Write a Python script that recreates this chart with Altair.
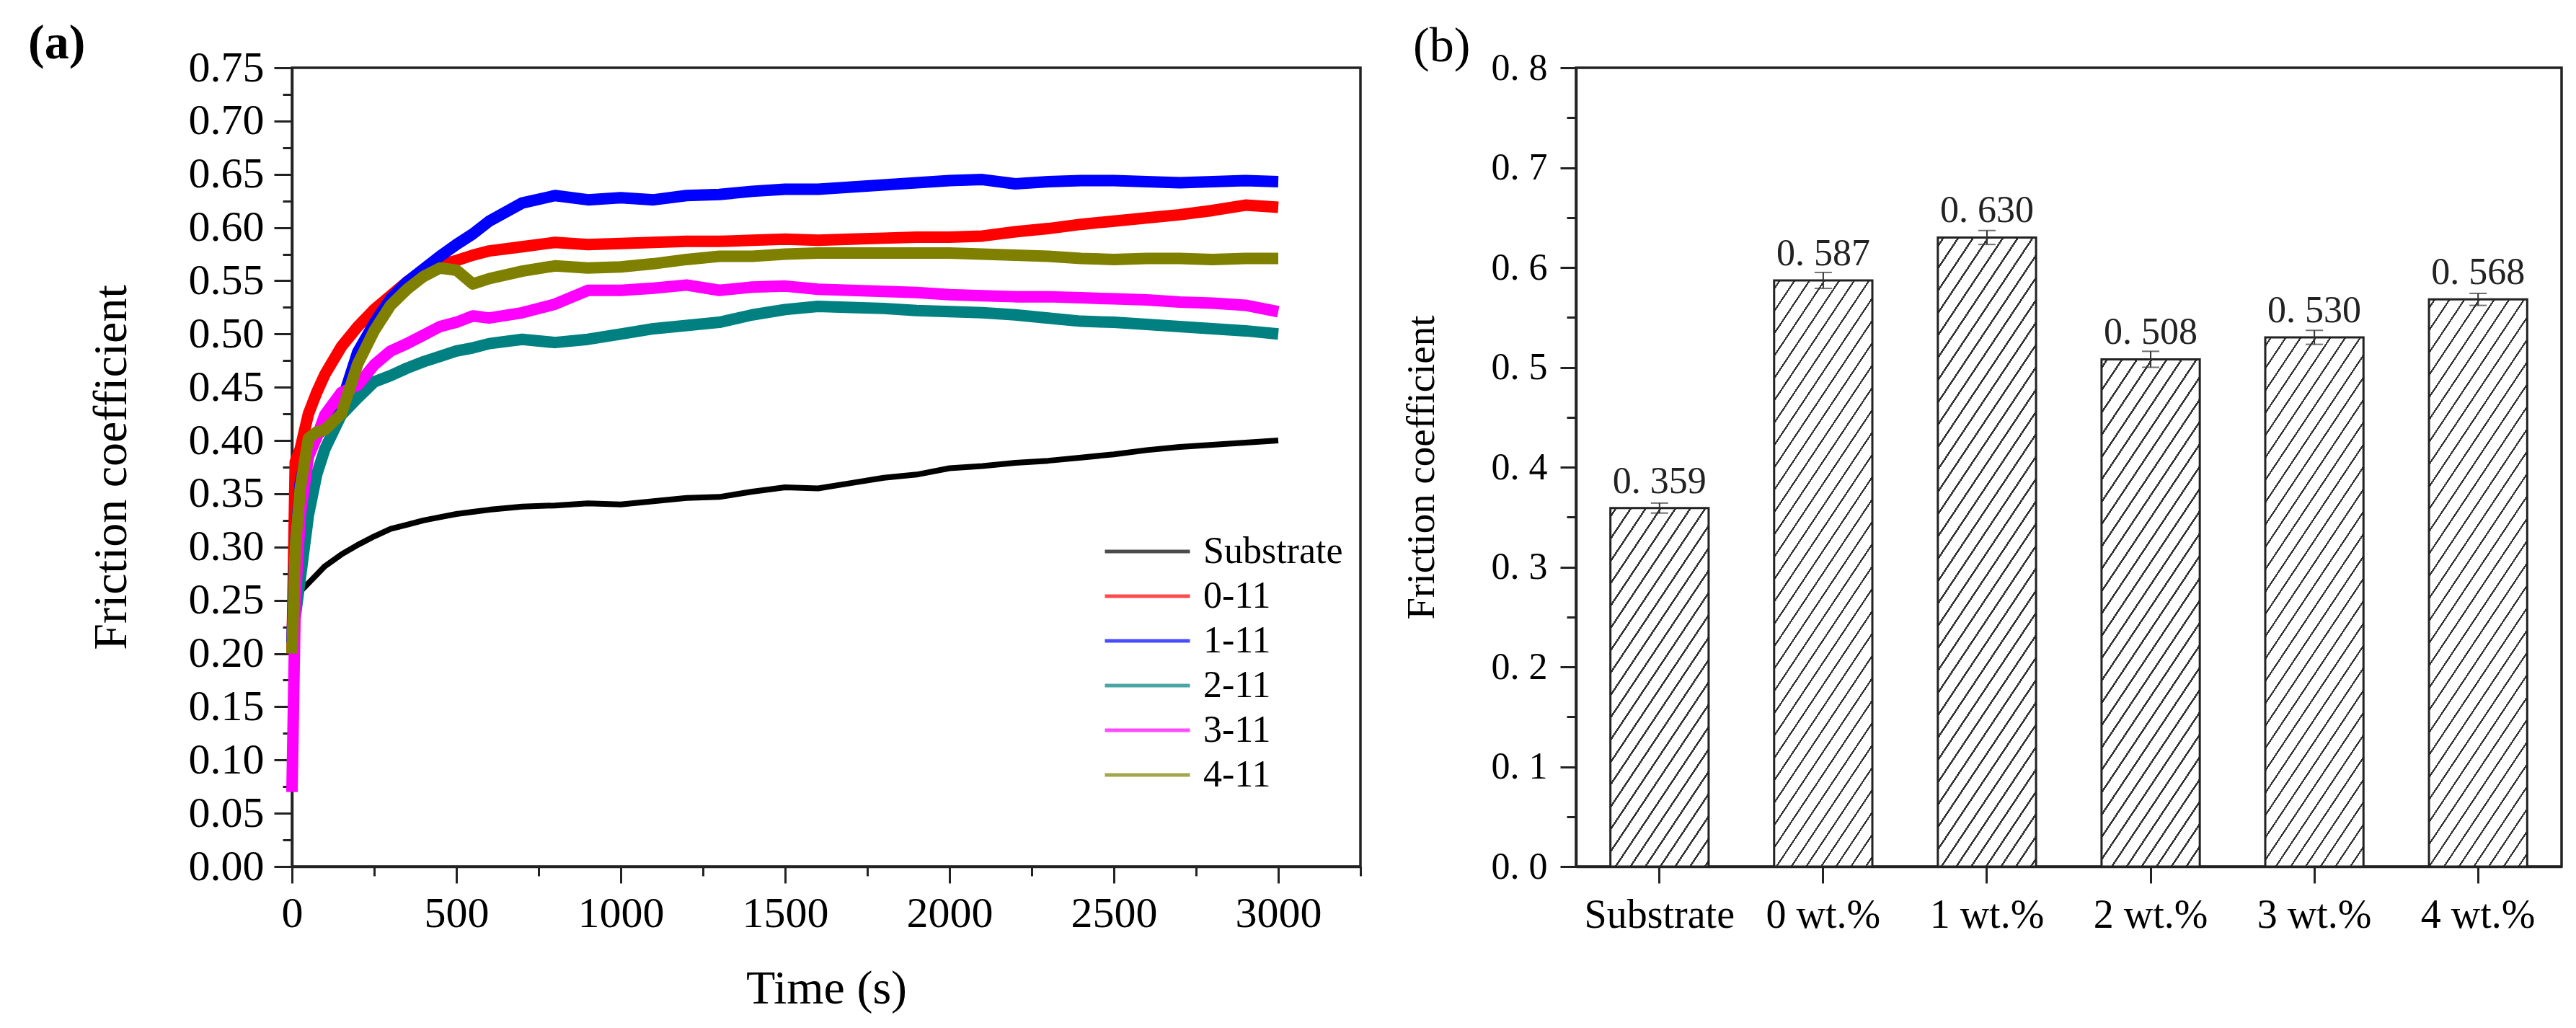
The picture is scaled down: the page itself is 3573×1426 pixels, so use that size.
import math

import altair as alt
import pandas as pd

# ---------------- panel (a): friction coefficient vs. sliding time ----------------
time_s = [0, 10, 25, 50, 75, 100, 150, 200, 250, 300, 350, 400, 450, 500, 550, 600,
          700, 800, 900, 1000, 1100, 1200, 1300, 1400, 1500, 1600, 1700, 1800, 1900,
          2000, 2100, 2200, 2300, 2400, 2500, 2600, 2700, 2800, 2900, 3000]

cof_substrate = [0.200, 0.245, 0.258, 0.266, 0.274, 0.282, 0.293, 0.302, 0.310, 0.317,
                 0.321, 0.325, 0.328, 0.331, 0.333, 0.335,
                 0.338, 0.339, 0.341, 0.340, 0.343, 0.346, 0.347, 0.352, 0.356, 0.355,
                 0.360, 0.365, 0.368, 0.374, 0.376, 0.379, 0.381, 0.384, 0.387, 0.391,
                 0.394, 0.396, 0.398, 0.400]
cof_0_11 = [0.200, 0.380, 0.392, 0.425, 0.445, 0.462, 0.488, 0.507, 0.523, 0.536,
            0.549, 0.558, 0.565, 0.569, 0.574, 0.578,
            0.582, 0.586, 0.584, 0.585, 0.586, 0.587, 0.587, 0.588, 0.589, 0.588,
            0.589, 0.590, 0.591, 0.591, 0.592, 0.596, 0.599, 0.603, 0.606, 0.609,
            0.612, 0.616, 0.621, 0.619]
cof_1_11 = [0.210, 0.300, 0.360, 0.395, 0.405, 0.412, 0.435, 0.483, 0.510, 0.533,
            0.549, 0.561, 0.573, 0.584, 0.594, 0.606,
            0.623, 0.630, 0.626, 0.628, 0.626, 0.630, 0.631, 0.634, 0.636, 0.636,
            0.638, 0.640, 0.642, 0.644, 0.645, 0.641, 0.643, 0.644, 0.644, 0.643,
            0.642, 0.643, 0.644, 0.643]
cof_2_11 = [0.220, 0.235, 0.270, 0.330, 0.368, 0.392, 0.424, 0.440, 0.455, 0.461,
            0.468, 0.474, 0.479, 0.484, 0.487, 0.491,
            0.495, 0.492, 0.495, 0.500, 0.505, 0.508, 0.511, 0.518, 0.523, 0.526,
            0.525, 0.524, 0.522, 0.521, 0.520, 0.518, 0.515, 0.512, 0.511, 0.509,
            0.507, 0.505, 0.503, 0.500]
cof_3_11 = [0.070, 0.250, 0.330, 0.385, 0.403, 0.424, 0.445, 0.452, 0.471, 0.484,
            0.491, 0.499, 0.507, 0.511, 0.517, 0.515,
            0.520, 0.528, 0.541, 0.541, 0.543, 0.546, 0.541, 0.544, 0.545, 0.542,
            0.541, 0.540, 0.539, 0.537, 0.536, 0.535, 0.535, 0.534, 0.533, 0.532,
            0.530, 0.529, 0.527, 0.521]
cof_4_11 = [0.200, 0.300, 0.355, 0.402, 0.408, 0.410, 0.425, 0.472, 0.503, 0.527,
            0.542, 0.554, 0.562, 0.560, 0.547, 0.552,
            0.559, 0.564, 0.562, 0.563, 0.566, 0.570, 0.573, 0.573, 0.575, 0.576,
            0.576, 0.576, 0.576, 0.576, 0.575, 0.574, 0.573, 0.571, 0.570, 0.571,
            0.571, 0.570, 0.571, 0.571]

series_names = ["Substrate", "0-11", "1-11", "2-11", "3-11", "4-11"]
series_colors = ["#000000", "#ff0000", "#0000ff", "#008080", "#ff00ff", "#808000"]
series_values = [cof_substrate, cof_0_11, cof_1_11, cof_2_11, cof_3_11, cof_4_11]

# ---------------- panel (b): mean friction coefficient ----------------
samples = ["Substrate", "0 wt.%", "1 wt.%", "2 wt.%", "3 wt.%", "4 wt.%"]
mean_cof = [0.359, 0.587, 0.630, 0.508, 0.530, 0.568]
cof_err = [0.005, 0.008, 0.007, 0.008, 0.007, 0.006]

FONT = "Liberation Serif"
INK = "#222222"

# plot sizes
W_A, H_A = 1482, 1108
W_B, H_B = 1367, 1108

# ---- panel (a) ----
rows = []
for name, vals in zip(series_names, series_values):
    for t, v in zip(time_s, vals):
        rows.append({"time": t, "cof": v, "series": name})
df_a = pd.DataFrame(rows)

color_scale = alt.Scale(domain=series_names, range=series_colors)

x_axis_a = alt.Axis(
    values=list(range(0, 3251, 250)),
    labelExpr="datum.value % 500 === 0 ? datum.label : ''",
    format="d",
    tickSize={"condition": {"test": "datum.value % 500 === 0", "value": 23}, "value": 13},
    labelFontSize=60, labelPadding=13, titleFontSize=66, titlePadding=42,
)
y_axis_a = alt.Axis(
    values=[round(i * 0.025, 3) for i in range(31)],
    labelExpr="round(datum.value * 1000) % 50 === 0 ? format(datum.value, '.2f') : ''",
    tickSize={"condition": {"test": "round(datum.value * 1000) % 50 === 0", "value": 25}, "value": 13},
    labelFontSize=60, labelPadding=14, titleFontSize=66, titlePadding=73,
)
legend_a = alt.Legend(
    orient="none", legendX=1125, legendY=640, title=None,
    symbolType="stroke", symbolSize=118 * 118, symbolStrokeWidth=5, symbolOpacity=0.7,
    labelFont=FONT, labelFontSize=52, labelOffset=16, labelColor="black", labelLimit=0,
    clipHeight=62, rowPadding=0, padding=0,
)

lines = []
for name in series_names:
    lines.append(
        alt.Chart(df_a[df_a["series"] == name])
        .mark_line(strokeWidth=8 if name == "Substrate" else 16, strokeJoin="round")
        .encode(
            x=alt.X("time:Q", title="Time (s)",
                    scale=alt.Scale(domain=[0, 3250], nice=False), axis=x_axis_a),
            y=alt.Y("cof:Q", title="Friction coefficient",
                    scale=alt.Scale(domain=[0, 0.75], nice=False), axis=y_axis_a),
            color=alt.Color("series:N", scale=color_scale, legend=legend_a),
        )
    )

panel_a = alt.layer(*lines).properties(
    width=W_A, height=H_A,
    title=alt.TitleParams("(a)", anchor="start", frame="group", dx=-366, offset=-85,
                          baseline="alphabetic", font=FONT, fontSize=68, fontWeight="bold"),
)

# ---- panel (b) ----
df_b = pd.DataFrame({"sample": samples, "cof": mean_cof, "err": cof_err})

pad_in, pad_out = 0.4, 0.21
step = W_B / (len(samples) - pad_in + 2 * pad_out)
bar_w = step * (1 - pad_in)


def hatch_fill(value, k=1.5, period=31.0, thick=2.3, phase=12.0):
    # diagonal hatch drawn as a hard-stop linear gradient in bar bbox units
    h = value / 0.8 * H_B
    w = bar_w
    span = k * w + h
    a = span / (k * k * w * w + h * h)
    half = thick * math.sqrt(1 + k * k) / 2
    stops = [alt.GradientStop(offset=0, color="white")]
    f = phase
    while f - half < span:
        lo = max(0.0, (f - half) / span)
        hi = min(1.0, (f + half) / span)
        stops += [alt.GradientStop(offset=round(lo, 5), color="white"),
                  alt.GradientStop(offset=round(lo, 5), color="#333333"),
                  alt.GradientStop(offset=round(hi, 5), color="#333333"),
                  alt.GradientStop(offset=round(hi, 5), color="white")]
        f += period
    stops.append(alt.GradientStop(offset=1, color="white"))
    return alt.LinearGradient(gradient="linear", stops=stops,
                              x1=0, y1=0, x2=a * k * w, y2=a * h)


x_b = alt.X("sample:N", title=None,
            scale=alt.Scale(domain=samples, paddingInner=pad_in, paddingOuter=pad_out),
            axis=alt.Axis(labelAngle=0, tickSize=23, labelFontSize=56, labelPadding=17,
                          labelLimit=0))
y_axis_b = alt.Axis(
    values=[round(i * 0.05, 2) for i in range(17)],
    labelExpr="round(datum.value * 100) % 10 === 0 ? replace(format(datum.value, '.1f'), '.', '. ') : ''",
    tickSize={"condition": {"test": "round(datum.value * 100) % 10 === 0", "value": 22}, "value": 13},
    labelFontSize=52, labelPadding=18, titleFontSize=55, titlePadding=68,
)
y_scale_b = alt.Scale(domain=[0, 0.8], nice=False)

bars = []
for i, s in enumerate(samples):
    bars.append(
        alt.Chart(df_b[df_b["sample"] == s])
        .mark_bar(fill=hatch_fill(mean_cof[i]), stroke=INK, strokeWidth=3)
        .encode(x=x_b, y=alt.Y("cof:Q", title="Friction coefficient",
                               scale=y_scale_b, axis=y_axis_b))
    )

err_base = alt.Chart(df_b).transform_calculate(
    lo="datum.cof - datum.err", hi="datum.cof + datum.err"
)
err_rule = err_base.mark_rule(color="#333333", strokeWidth=2).encode(
    x=x_b, y=alt.Y("lo:Q", title="Friction coefficient", scale=y_scale_b, axis=y_axis_b),
    y2="hi:Q",
)
err_lo = err_base.mark_tick(color="#333333", size=24, thickness=2).encode(
    x=x_b, y=alt.Y("lo:Q", title="Friction coefficient", scale=y_scale_b, axis=y_axis_b))
err_hi = err_base.mark_tick(color="#333333", size=24, thickness=2).encode(
    x=x_b, y=alt.Y("hi:Q", title="Friction coefficient", scale=y_scale_b, axis=y_axis_b))

value_text = alt.Chart(df_b).transform_calculate(
    label="replace(format(datum.cof, '.3f'), '.', '. ')"
).mark_text(baseline="alphabetic", dy=-21, font=FONT, fontSize=52, color="#222222").encode(
    x=x_b, y=alt.Y("cof:Q", title="Friction coefficient", scale=y_scale_b, axis=y_axis_b),
    text="label:N",
)

panel_b = alt.layer(*bars, err_rule, err_lo, err_hi, value_text).properties(
    width=W_B, height=H_B,
    title=alt.TitleParams("(b)", anchor="start", frame="group", dx=-226, offset=-85,
                          baseline="alphabetic", font=FONT, fontSize=68, fontWeight="normal"),
)

chart = (
    alt.hconcat(panel_a, panel_b, spacing=51)
    .properties(padding={"left": 29, "top": 17, "right": 5, "bottom": 5}, background="white")
    .configure_view(stroke=INK, strokeWidth=3.5)
    .configure_axis(
        grid=False, domainColor=INK, domainWidth=3.5, tickColor=INK, tickWidth=3,
        labelFont=FONT, titleFont=FONT, labelColor="black", titleColor="black",
        titleFontWeight="normal", labelOverlap=False, labelFlush=False,
    )
)

chart.save("out.html", embed_options={"renderer": "svg", "actions": False})
